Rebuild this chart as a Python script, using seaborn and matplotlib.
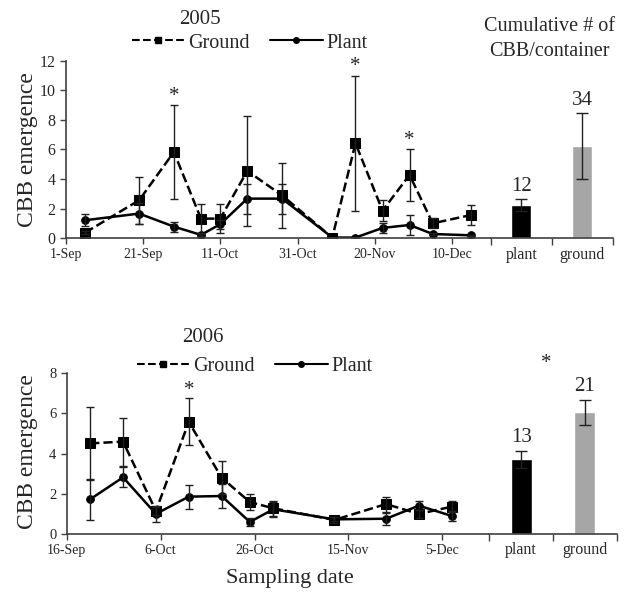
import matplotlib
matplotlib.use("Agg")
import matplotlib.pyplot as plt
import seaborn as sns
import pandas as pd
import numpy as np
from matplotlib.lines import Line2D

sns.set_style("ticks")
plt.rcParams['font.family'] = ['Liberation Serif', 'DejaVu Serif']

# ---------------- data ----------------
dates_2005 = ["2005-09-06", "2005-09-20", "2005-09-29", "2005-10-06", "2005-10-11",
              "2005-10-18", "2005-10-27", "2005-11-09", "2005-11-15", "2005-11-22",
              "2005-11-29", "2005-12-05", "2005-12-15"]
ground_2005 = [0.38, 2.57, 5.83, 1.33, 1.33, 4.55, 2.9, 0.05, 6.42, 1.87, 4.28, 1.01, 1.58]
ground_err_2005 = [0.1, 1.6, 3.16, 0.99, 0.97, 3.72, 2.2, 0.0, 4.57, 0.72, 1.76, 0.34, 0.67]
plant_2005 = [1.22, 1.67, 0.79, 0.23, 0.95, 2.68, 2.68, 0.05, 0.05, 0.7, 0.9, 0.29, 0.2]
plant_err_2005 = [0.42, 0.7, 0.34, 0.05, 0.29, 1.02, 1.02, 0.0, 0.0, 0.36, 0.68, 0.05, 0.05]
star_dates_2005 = ["2005-09-29", "2005-11-15", "2005-11-29"]
star_y_2005 = [9.6, 11.6, 6.6]
ticks_2005 = ["2005-09-01", "2005-09-21", "2005-10-11", "2005-10-31", "2005-11-20", "2005-12-10"]
tick_labels_2005 = ["1-Sep", "21-Sep", "11-Oct", "31-Oct", "20-Nov", "10-Dec"]
xlim_2005 = ["2005-09-01", "2005-12-20"]

dates_2006 = ["2006-09-21", "2006-09-28", "2006-10-05", "2006-10-12", "2006-10-19",
              "2006-10-25", "2006-10-30", "2006-11-12", "2006-11-23", "2006-11-30",
              "2006-12-07"]
ground_2006 = [4.51, 4.6, 1.15, 5.58, 2.8, 1.59, 1.28, 0.7, 1.49, 1.0, 1.36]
ground_err_2006 = [1.83, 1.19, 0.2, 1.17, 0.82, 0.38, 0.36, 0.15, 0.37, 0.21, 0.28]
plant_2006 = [1.73, 2.82, 1.0, 1.86, 1.89, 0.6, 1.23, 0.73, 0.76, 1.41, 0.9]
plant_err_2006 = [1.02, 0.5, 0.39, 0.6, 0.58, 0.2, 0.37, 0.1, 0.3, 0.22, 0.24]
star_dates_2006 = ["2006-10-12"]
star_y_2006 = [7.15]
ticks_2006 = ["2006-09-16", "2006-10-06", "2006-10-26", "2006-11-15", "2006-12-05"]
tick_labels_2006 = ["16-Sep", "6-Oct", "26-Oct", "15-Nov", "5-Dec"]
xlim_2006 = ["2006-09-16", "2006-12-15"]

bar_cats = ["plant", "ground"]
bar_2005 = [2.25, 6.24]
bar_err_2005 = [0.41, 2.25]
bar_lab_2005 = ["12", "34"]
bar_2006 = [3.72, 6.05]
bar_err_2006 = [0.41, 0.6]
bar_lab_2006 = ["13", "21"]
bar_colors = ["#000000", "#a6a6a6"]

AX = "#404040"
W, H = 635, 598
fig = plt.figure(figsize=(W / 100, H / 100), dpi=100)


def fr(x0, x1, ytop, ybot):
    return [x0 / W, 1 - ybot / H, (x1 - x0) / W, (ybot - ytop) / H]


def draw_line_panel(ax, dates, g, ge, p, pe, stars_x, stars_y, ticks, tlabels, xlim, ymax, ystep, ylab):
    d = pd.to_datetime(dates)
    dfg = pd.DataFrame({"date": d, "v": g})
    dfp = pd.DataFrame({"date": d, "v": p})
    sns.lineplot(data=dfg, x="date", y="v", ax=ax, color="black", linestyle="--",
                 marker="s", markersize=6.5, linewidth=1.8, markeredgecolor="black")
    sns.lineplot(data=dfp, x="date", y="v", ax=ax, color="black", linestyle="-",
                 marker="o", markersize=5.5, linewidth=1.8, markeredgecolor="black")
    ax.errorbar(d, g, yerr=ge, fmt="none", ecolor="#202020", elinewidth=1, capsize=3, capthick=1)
    ax.errorbar(d, p, yerr=pe, fmt="none", ecolor="#202020", elinewidth=1, capsize=3, capthick=1)
    for sx, sy in zip(pd.to_datetime(stars_x), stars_y):
        ax.text(sx, sy, "*", ha="center", va="center", fontsize=15)
    ax.set_xlim(pd.to_datetime(xlim[0]), pd.to_datetime(xlim[1]))
    ax.set_ylim(0, ymax)
    ax.set_yticks(np.arange(0, ymax + 0.1, ystep))
    ax.set_xticks(pd.to_datetime(ticks))
    ax.set_xticklabels(tlabels, fontsize=10)
    ax.tick_params(axis="y", labelsize=ylab, length=4, color=AX, width=1)
    ax.tick_params(axis="x", length=4, color=AX, width=1, pad=3)
    ax.set_xlabel("")
    ax.set_ylabel("")
    for s in ["top", "right"]:
        ax.spines[s].set_visible(False)
    for s in ["left", "bottom"]:
        ax.spines[s].set_color(AX)
        ax.spines[s].set_linewidth(1.2)
    handles = [Line2D([], [], color="black", linestyle="--", marker="s", markersize=5, linewidth=1.5),
               Line2D([], [], color="black", linestyle="-", marker="o", markersize=4, linewidth=1.5)]
    return handles


def draw_bar_panel(ax, vals, errs, labs, ymax, star=None):
    df = pd.DataFrame({"cat": bar_cats, "v": vals})
    sns.barplot(data=df, x="cat", y="v", hue="cat", palette=bar_colors, ax=ax,
                width=0.33, legend=False, saturation=1)
    ax.errorbar([0, 1], vals, yerr=errs, fmt="none", ecolor="#202020", elinewidth=1,
                capsize=4, capthick=1)
    for i, (v, e, l) in enumerate(zip(vals, errs, labs)):
        ax.text(i, v + e + 0.2, l, ha="center", va="bottom", fontsize=15)
    if star is not None:
        ax.text(star[0], star[1], "*", ha="center", va="center", fontsize=15, clip_on=False)
    ax.set_xlim(-0.5, 1.5)
    ax.set_ylim(0, ymax)
    ax.set_xticks([0, 1])
    ax.set_xticklabels(bar_cats, fontsize=11.5)
    ax.set_xticks([-0.5, 0.5, 1.5], minor=True)
    ax.tick_params(axis="x", which="major", length=0, pad=6)
    ax.tick_params(axis="x", which="minor", length=5, color=AX, width=1)
    ax.set_yticks([])
    ax.set_xlabel("")
    ax.set_ylabel("")
    for s in ["top", "right", "left"]:
        ax.spines[s].set_visible(False)
    ax.spines["bottom"].set_color(AX)
    ax.spines["bottom"].set_linewidth(1.2)


# ---------------- 2005 ----------------
ax1 = fig.add_axes(fr(65.7, 490.7, 60.7, 238.3))
ax1b = fig.add_axes(fr(490.7, 612.7, 60.7, 238.3))
h = draw_line_panel(ax1, dates_2005, ground_2005, ground_err_2005, plant_2005, plant_err_2005,
                    star_dates_2005, star_y_2005, ticks_2005, tick_labels_2005, xlim_2005, 12, 2, 11.5)
draw_bar_panel(ax1b, bar_2005, bar_err_2005, bar_lab_2005, 12)
fig.legend(h, ["Ground", "Plant"], loc="center", bbox_to_anchor=(250 / W, 1 - 43 / H), ncol=2,
           frameon=False, fontsize=14.5, handlelength=2.6, handletextpad=0.2, columnspacing=1.0)
fig.text(200 / W, 1 - 19 / H, "2005", ha="center", va="center", fontsize=15)
fig.text(549 / W, 1 - 39 / H, "Cumulative # of\nCBB/container", ha="center", va="center",
         fontsize=14.5, linespacing=1.4)
fig.text(28 / W, 1 - 150 / H, "CBB emergence", rotation=90, ha="center", va="center", fontsize=17)

# ---------------- 2006 ----------------
ax2 = fig.add_axes(fr(66.7, 489.3, 373.3, 534))
ax2b = fig.add_axes(fr(489.3, 616.7, 373.3, 534))
h = draw_line_panel(ax2, dates_2006, ground_2006, ground_err_2006, plant_2006, plant_err_2006,
                    star_dates_2006, star_y_2006, ticks_2006, tick_labels_2006, xlim_2006, 8, 2, 10.5)
draw_bar_panel(ax2b, bar_2006, bar_err_2006, bar_lab_2006, 8, star=(0.4, 8.5))
fig.legend(h, ["Ground", "Plant"], loc="center", bbox_to_anchor=(255 / W, 1 - 366 / H), ncol=2,
           frameon=False, fontsize=14.5, handlelength=2.6, handletextpad=0.2, columnspacing=1.0)
fig.text(203 / W, 1 - 337 / H, "2006", ha="center", va="center", fontsize=15)
fig.text(28 / W, 1 - 452 / H, "CBB emergence", rotation=90, ha="center", va="center", fontsize=17)
fig.text(290 / W, 1 - 578 / H, "Sampling date", ha="center", va="center", fontsize=16)

fig.savefig("out.png", dpi=100)
